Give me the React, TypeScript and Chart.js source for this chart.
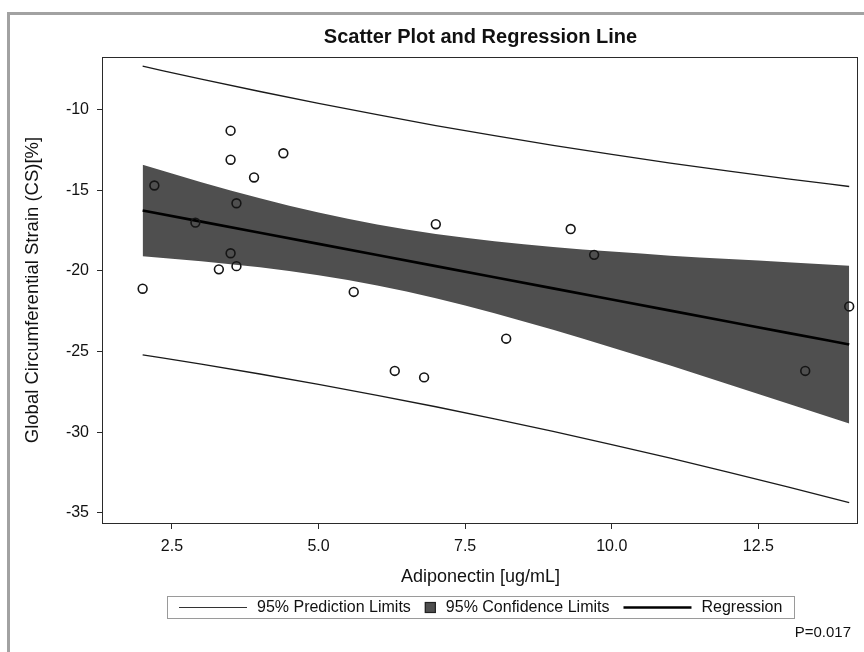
import React, { useEffect, useRef } from "react";
import { Chart, registerables } from "chart.js";

Chart.register(...registerables);

// ---- data -------------------------------------------------------------
const TITLE = "Scatter Plot and Regression Line";
const X_LABEL = "Adiponectin [ug/mL]";
const Y_LABEL = "Global Circumferential Strain (CS)[%]";
const P_TEXT = "P=0.017";
const LEGEND_LABELS = ["95% Prediction Limits", "95% Confidence Limits", "Regression"];

const X_TICKS = [2.5, 5.0, 7.5, 10.0, 12.5];
const Y_TICKS = [-35, -30, -25, -20, -15, -10];
const X_RANGE = [1.324, 14.2];
const Y_RANGE = [-35.63, -6.73];

// observed subjects
const adiponectin = [2.0, 2.2, 2.9, 3.3, 3.5, 3.5, 3.5, 3.6, 3.6, 3.9, 4.4, 5.6, 6.3, 6.8, 7.0, 8.2, 9.3, 9.7, 13.3, 14.05];
const strainCS = [-21.1, -14.7, -17.0, -19.9, -11.3, -13.1, -18.9, -15.8, -19.7, -14.2, -12.7, -21.3, -26.2, -26.6, -17.1, -24.2, -17.4, -19.0, -26.2, -22.2];

// fitted line and limits along the adiponectin range
const fitX = [2, 3, 4, 5, 6, 7, 8, 9, 10, 11, 12, 13, 14.05];
const regression = [-16.25, -16.94, -17.63, -18.32, -19.01, -19.7, -20.39, -21.08, -21.77, -22.46, -23.15, -23.84, -24.56];
const confUpper = [-13.42, -14.49, -15.49, -16.38, -17.12, -17.71, -18.16, -18.51, -18.8, -19.05, -19.26, -19.46, -19.67];
const confLower = [-19.08, -19.39, -19.77, -20.26, -20.9, -21.69, -22.62, -23.65, -24.74, -25.87, -27.04, -28.22, -29.46];
const predUpper = [-7.3, -8.1, -8.87, -9.61, -10.31, -10.98, -11.61, -12.21, -12.77, -13.31, -13.81, -14.29, -14.76];
const predLower = [-25.2, -25.78, -26.39, -27.03, -27.71, -28.42, -29.17, -29.95, -30.77, -31.61, -32.49, -33.39, -34.36];

// ---- styling ----------------------------------------------------------
const FONT = '"Liberation Sans", Arial, Helvetica, sans-serif';
const INK = "#111111";
const BAND = "#4f4f4f";

const pairs = (xs: number[], ys: number[]) => xs.map((x, i) => ({ x, y: ys[i] }));

const decorPlugin = {
  id: "decor",
  beforeDraw(chart: any) {
    const { ctx, width, height } = chart;
    ctx.save();
    ctx.fillStyle = "#ffffff";
    ctx.fillRect(0, 0, width, height);
    // outer gray frame (top and left edges)
    ctx.fillStyle = "#a2a2a2";
    ctx.fillRect(7, 12, width - 7, 3);
    ctx.fillRect(7, 12, 3, height - 12);
    ctx.restore();
  },
  afterDraw(chart: any) {
    const { ctx, chartArea } = chart;
    const { left, top, right, bottom } = chartArea;
    ctx.save();
    // plot frame
    ctx.strokeStyle = "#2a2a2a";
    ctx.lineWidth = 1;
    ctx.strokeRect(Math.round(left) - 0.5, Math.round(top) + 0.5, Math.round(right - left), Math.round(bottom - top));

    const cx = (left + right) / 2;

    // title
    ctx.fillStyle = INK;
    ctx.font = `bold 20px ${FONT}`;
    ctx.textAlign = "center";
    ctx.textBaseline = "middle";
    ctx.fillText(TITLE, cx, 37);

    // legend
    ctx.font = `16px ${FONT}`;
    const sampleLine = 68;
    const sampleBox = 11;
    const gap = 10;
    const itemGap = 14;
    const pad = 12;
    const w = LEGEND_LABELS.map((t) => ctx.measureText(t).width);
    const samples = [sampleLine, sampleBox, sampleLine];
    let total = pad * 2;
    for (let i = 0; i < 3; i++) total += samples[i] + gap + w[i] + (i < 2 ? itemGap : 0);
    const bx = Math.round(cx - total / 2);
    const by = 596;
    const bh = 22;
    ctx.strokeStyle = "#9a9a9a";
    ctx.lineWidth = 1;
    ctx.strokeRect(bx + 0.5, by + 0.5, Math.round(total), bh);
    const my = by + bh / 2 + 0.5;
    let x = bx + pad;
    for (let i = 0; i < 3; i++) {
      if (i === 1) {
        ctx.fillStyle = BAND;
        ctx.fillRect(x, my - sampleBox / 2, sampleBox, sampleBox);
        ctx.strokeStyle = "#222";
        ctx.strokeRect(x + 0.5, my - sampleBox / 2 + 0.5, sampleBox - 1, sampleBox - 1);
      } else {
        ctx.strokeStyle = i === 0 ? "#333" : "#000";
        ctx.lineWidth = i === 0 ? 1.2 : 2.6;
        ctx.beginPath();
        ctx.moveTo(x, my);
        ctx.lineTo(x + samples[i], my);
        ctx.stroke();
      }
      x += samples[i] + gap;
      ctx.fillStyle = INK;
      ctx.textAlign = "left";
      ctx.fillText(LEGEND_LABELS[i], x, my);
      x += w[i] + itemGap;
    }

    // p-value note
    ctx.font = `15px ${FONT}`;
    ctx.textAlign = "right";
    ctx.fillStyle = INK;
    ctx.fillText(P_TEXT, 851, 633);
    ctx.restore();
  },
};

export default function App() {
  const canvasRef = useRef<HTMLCanvasElement | null>(null);

  useEffect(() => {
    const canvas = canvasRef.current;
    if (!canvas) return;

    const curve = {
      type: "line" as const,
      pointRadius: 0,
      pointHoverRadius: 0,
      cubicInterpolationMode: "monotone" as const,
    };

    const chart = new Chart(canvas, {
      type: "scatter",
      data: {
        datasets: [
          {
            type: "scatter",
            label: "Observed",
            data: pairs(adiponectin, strainCS),
            order: 0,
            pointStyle: "circle",
            pointRadius: 4.4,
            borderColor: "#151515",
            borderWidth: 1.6,
            backgroundColor: "rgba(0,0,0,0)",
          },
          {
            ...curve,
            label: LEGEND_LABELS[2],
            data: pairs(fitX, regression),
            order: 1,
            borderColor: "#000000",
            borderWidth: 2.6,
            fill: false,
          },
          {
            ...curve,
            label: LEGEND_LABELS[0],
            data: pairs(fitX, predUpper),
            order: 2,
            borderColor: "#1a1a1a",
            borderWidth: 1.3,
            fill: false,
          },
          {
            ...curve,
            label: LEGEND_LABELS[0] + " (lower)",
            data: pairs(fitX, predLower),
            order: 2,
            borderColor: "#1a1a1a",
            borderWidth: 1.3,
            fill: false,
          },
          {
            ...curve,
            label: LEGEND_LABELS[1],
            data: pairs(fitX, confUpper),
            order: 3,
            borderColor: "rgba(0,0,0,0)",
            borderWidth: 1,
            backgroundColor: BAND,
            fill: "+1",
          },
          {
            ...curve,
            label: LEGEND_LABELS[1] + " (lower)",
            data: pairs(fitX, confLower),
            order: 3,
            borderColor: "rgba(0,0,0,0)",
            borderWidth: 1,
            fill: false,
          },
        ],
      } as any,
      options: {
        responsive: false,
        animation: false,
        devicePixelRatio: 1,
        layout: { padding: { top: 57, right: 6, bottom: 52, left: 0 } },
        plugins: {
          legend: { display: false },
          title: { display: false },
          tooltip: { enabled: false },
        },
        scales: {
          x: {
            type: "linear",
            min: X_RANGE[0],
            max: X_RANGE[1],
            afterBuildTicks: (s: any) => {
              s.ticks = X_TICKS.map((value) => ({ value }));
            },
            afterFit: (s: any) => {
              s.height = 77;
            },
            ticks: {
              autoSkip: false,
              maxRotation: 0,
              padding: 8,
              color: INK,
              font: { family: FONT, size: 16 },
              callback: (v: any) => Number(v).toFixed(1),
            },
            grid: { display: true, drawOnChartArea: false, drawTicks: true, tickLength: 6, color: "#2a2a2a", lineWidth: 1 },
            border: { display: false },
            title: {
              display: true,
              text: X_LABEL,
              color: INK,
              font: { family: FONT, size: 18 },
              padding: { top: 0, bottom: 12 },
            },
          },
          y: {
            type: "linear",
            min: Y_RANGE[0],
            max: Y_RANGE[1],
            afterBuildTicks: (s: any) => {
              s.ticks = Y_TICKS.map((value) => ({ value }));
            },
            afterFit: (s: any) => {
              s.width = 103;
            },
            ticks: {
              autoSkip: false,
              padding: 8,
              color: INK,
              font: { family: FONT, size: 16 },
              callback: (v: any) => `${v}`,
            },
            grid: { display: true, drawOnChartArea: false, drawTicks: true, tickLength: 6, color: "#2a2a2a", lineWidth: 1 },
            border: { display: false },
            title: {
              display: true,
              text: Y_LABEL,
              color: INK,
              font: { family: FONT, size: 18.5 },
              padding: { top: 22, bottom: 0 },
            },
          },
        },
      },
      plugins: [decorPlugin],
    });

    return () => chart.destroy();
  }, []);

  return (
    <div style={{ position: "fixed", left: 0, top: 0, width: 864, height: 652, background: "#fff" }}>
      <canvas ref={canvasRef} width={864} height={652} style={{ display: "block" }} />
    </div>
  );
}
